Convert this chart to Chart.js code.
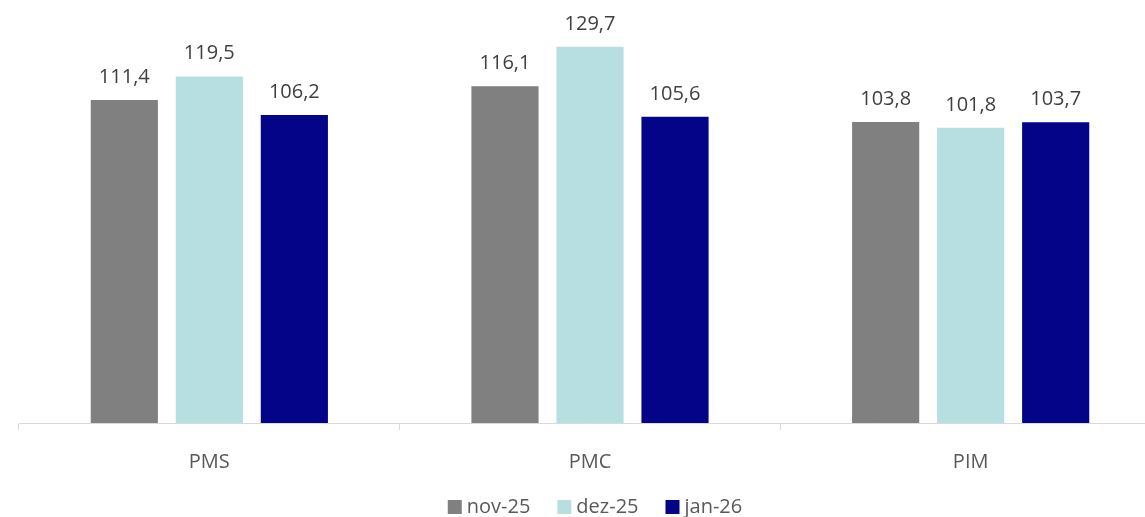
<!DOCTYPE html>
<html>
<head>
<meta charset="utf-8">
<script src="https://cdn.jsdelivr.net/npm/chart.js@4.4.1/dist/chart.umd.min.js"></script>
<style>
  html, body { margin: 0; padding: 0; background: #ffffff; overflow: hidden; }
  #wrap { position: relative; width: 1165px; height: 517px; }
</style>
</head>
<body>
<div id="wrap"><canvas id="c"></canvas></div>
<script>
const categories = ["PMS", "PMC", "PIM"];
const seriesNames = ["nov-25", "dez-25", "jan-26"];
const nov25 = [111.4, 116.1, 103.8];
const dez25 = [119.5, 129.7, 101.8];
const jan26 = [106.2, 105.6, 103.7];
const colors = ["#808080", "#b7dee1", "#040488"];

const valueLabels = {
  id: "valueLabels",
  afterDatasetsDraw(chart) {
    const ctx = chart.ctx;
    ctx.save();
    ctx.font = "20px 'Open Sans'";
    ctx.fillStyle = "#404040";
    ctx.textAlign = "center";
    ctx.textBaseline = "alphabetic";
    chart.data.datasets.forEach((ds, i) => {
      const meta = chart.getDatasetMeta(i);
      meta.data.forEach((bar, j) => {
        const v = ds.data[j];
        ctx.fillText(v.toFixed(1).replace(".", ","), bar.x, bar.y - 17);
      });
    });
    ctx.restore();
  }
};

const customLegend = {
  id: "customLegend",
  afterDraw(chart) {
    const ctx = chart.ctx;
    ctx.save();
    ctx.font = "20px 'Open Sans'";
    ctx.textBaseline = "middle";
    ctx.textAlign = "left";
    const box = 14, gapText = 5, gapItem = 27;
    const items = chart.data.datasets.map(ds => ({
      text: ds.label, color: ds.backgroundColor, w: ctx.measureText(ds.label).width
    }));
    let total = 0;
    items.forEach((it, i) => { total += box + gapText + it.w + (i < items.length - 1 ? gapItem : 0); });
    const cx = 595, cy = 507;
    let x = cx - total / 2;
    items.forEach(it => {
      ctx.fillStyle = it.color;
      ctx.fillRect(x, cy - box / 2, box, box);
      ctx.fillStyle = "#595959";
      ctx.fillText(it.text, x + box + gapText, cy);
      x += box + gapText + it.w + gapItem;
    });
    ctx.restore();
  }
};

new Chart(document.getElementById("c"), {
  type: "bar",
  data: {
    labels: categories,
    datasets: [
      { label: seriesNames[0], data: nov25, backgroundColor: colors[0] },
      { label: seriesNames[1], data: dez25, backgroundColor: colors[1] },
      { label: seriesNames[2], data: jan26, backgroundColor: colors[2] }
    ]
  },
  options: {
    responsive: true,
    maintainAspectRatio: false,
    animation: false,
    datasets: { bar: { categoryPercentage: 0.67, barPercentage: 0.79 } },
    layout: { padding: { left: 19, right: 4, top: 17, bottom: 23 } },
    scales: {
      x: {
        grid: { offset: true, drawOnChartArea: false, drawTicks: true, tickLength: 7, color: "#d9d9d9", lineWidth: 1 },
        border: { display: true, color: "#d9d9d9", width: 1 },
        ticks: { color: "#595959", font: { family: "'Open Sans'", size: 20 }, padding: 20 }
      },
      y: { display: false, min: 0, max: 140 }
    },
    plugins: {
      legend: { display: false },
      tooltip: { enabled: false }
    }
  },
  plugins: [valueLabels, customLegend]
});
</script>
</body>
</html>
